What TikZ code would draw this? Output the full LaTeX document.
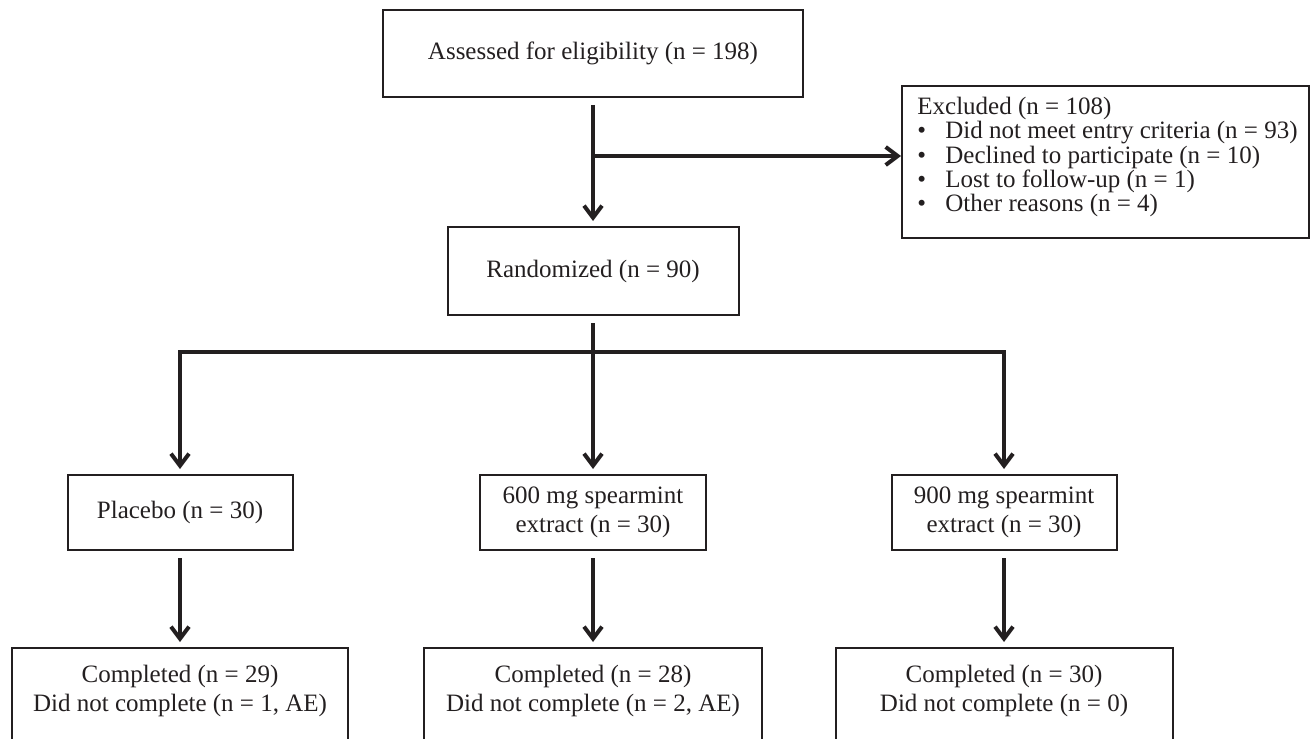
\documentclass[tikz,border=0pt]{standalone}
\usepackage{fontspec}
\setmainfont{Liberation Serif}
\usetikzlibrary{arrows.meta}
\definecolor{ink}{HTML}{231F20}
\newcommand{\punto}{\makebox[14pt][l]{\textbullet}}

\begin{document}
\begin{tikzpicture}[x=0.5pt, y=-0.5pt,
    every node/.style={font=\fontsize{12.5pt}{14.25pt}\selectfont, text=ink},
    caja/.style={draw=ink, line width=1pt, align=center, inner sep=0pt},
    flecha/.style={draw=ink, line width=2pt, -{Straight Barb[length=6pt, width=9pt]}, shorten <=3.5pt, shorten >=2.5pt},
    linea/.style={draw=ink, line width=2pt, shorten <=3.5pt}]
  \useasboundingbox (0,0) rectangle (1310,738);
  \clip (0,0) rectangle (1310,738);

  % Cajas
  \node[caja, minimum width=210pt, minimum height=43.5pt] (eval) at (593,53.5) {Assessed for eligibility (n = 198)};
  \node[caja, anchor=north west, minimum width=203.5pt, minimum height=76pt] (excl) at (901,85) {};
  \node[anchor=north west, align=left, inner sep=0pt, font=\fontsize{12.5pt}{12.1pt}\selectfont]
       (excltxt) at ([xshift=8pt, yshift=-6pt]excl.north west)
       {Excluded (n = 108)\\
        \punto Did not meet entry criteria (n = 93)\\
        \punto Declined to participate (n = 10)\\
        \punto Lost to follow-up (n = 1)\\
        \punto Other reasons (n = 4)};
  \node[caja, minimum width=145.5pt, minimum height=44pt] (rand) at (593,271) {Randomized (n = 90)};
  \node[caja, minimum width=112.5pt, minimum height=37.5pt] (pla) at (180,512.5) {Placebo (n = 30)};
  \node[caja, minimum width=113pt, minimum height=37.5pt] (m600) at (593,512.5) {600 mg spearmint\\extract (n = 30)};
  \node[caja, minimum width=112.5pt, minimum height=37.5pt] (m900) at (1004,512.5) {900 mg spearmint\\extract (n = 30)};
  \node[caja, anchor=north, minimum width=168pt, minimum height=60pt,
        label={[align=center, inner sep=0pt, anchor=north, label distance=-9pt]north:{Completed (n = 29)\\Did not complete (n = 1, AE)}}] (fin1) at (180,647) {};
  \node[caja, anchor=north, minimum width=169pt, minimum height=60pt,
        label={[align=center, inner sep=0pt, anchor=north, label distance=-9pt]north:{Completed (n = 28)\\Did not complete (n = 2, AE)}}] (fin2) at (593,647) {};
  \node[caja, anchor=north, minimum width=168.5pt, minimum height=60pt,
        label={[align=center, inner sep=0pt, anchor=north, label distance=-9pt]north:{Completed (n = 30)\\Did not complete (n = 0)}}] (fin3) at (1004,647) {};

  % Flechas
  \coordinate (rama) at (593,156);
  \coordinate (reparto) at (593,352);
  \draw[flecha] (eval) -- (rand);
  \draw[flecha, shorten <=0pt, shorten >=0pt] (rama) -- (rama -| excl.west);
  \draw[linea] (rand) -- (reparto);
  \draw[flecha, shorten <=0pt] (reparto) -| (pla);
  \draw[flecha, shorten <=0pt] (reparto) -- (m600);
  \draw[flecha, shorten <=0pt] (reparto) -| (m900);
  \draw[flecha] (pla) -- (fin1);
  \draw[flecha] (m600) -- (fin2);
  \draw[flecha] (m900) -- (fin3);
\end{tikzpicture}
\end{document}
